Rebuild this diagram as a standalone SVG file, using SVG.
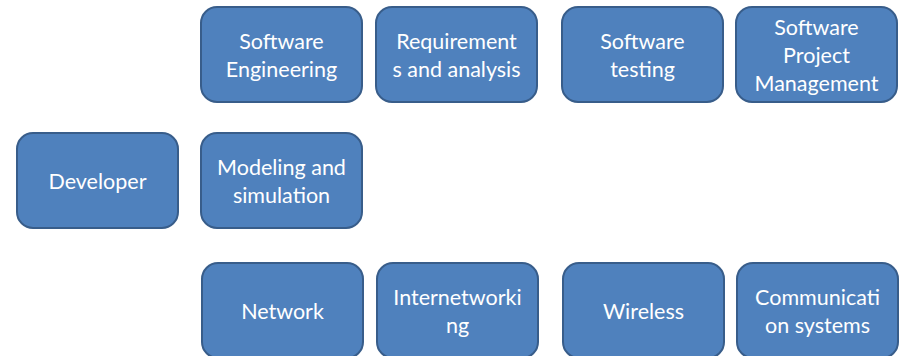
<svg xmlns="http://www.w3.org/2000/svg" width="904" height="356" viewBox="0 0 904 356">
<style>
.box{fill:#4F81BD;stroke:#385D8A;stroke-width:2}
.t{fill:#FFFFFF;font-family:Lato,"Liberation Sans",Arial,sans-serif;font-size:21.5px;text-anchor:middle}
</style>
<rect width="904" height="356" fill="#FFFFFF"/>
<g id="connectors"></g>
<g id="developer"><rect class="box" x="17" y="133" width="161" height="95" rx="16"/><text class="t" x="97.5" y="189">Developer</text></g>
<g id="software-engineering"><rect class="box" x="201" y="7" width="161" height="95" rx="16"/><text class="t" x="281.5" y="49">Software</text><text class="t" x="281.5" y="77">Engineering</text></g>
<g id="requirements"><rect class="box" x="376" y="7" width="161" height="95" rx="16"/><text class="t" x="456.5" y="49">Requirement</text><text class="t" x="456.5" y="77">s and analysis</text></g>
<g id="software-testing"><rect class="box" x="562" y="7" width="161" height="95" rx="16"/><text class="t" x="642.5" y="49">Software</text><text class="t" x="642.5" y="77">testing</text></g>
<g id="software-project-management"><rect class="box" x="736" y="7" width="161" height="95" rx="16"/><text class="t" x="816.5" y="35">Software</text><text class="t" x="816.5" y="63">Project</text><text class="t" x="816.5" y="91">Management</text></g>
<g id="modeling"><rect class="box" x="201" y="133" width="161" height="95" rx="16"/><text class="t" x="281.5" y="175">Modeling and</text><text class="t" x="281.5" y="203">simulation</text></g>
<g id="network"><rect class="box" x="202" y="263" width="161" height="95" rx="16"/><text class="t" x="282.5" y="319">Network</text></g>
<g id="internetworking"><rect class="box" x="377" y="263" width="161" height="95" rx="16"/><text class="t" x="457.5" y="305">Internetworki</text><text class="t" x="457.5" y="333">ng</text></g>
<g id="wireless"><rect class="box" x="563" y="263" width="161" height="95" rx="16"/><text class="t" x="643.5" y="319">Wireless</text></g>
<g id="communication-systems"><rect class="box" x="737" y="263" width="161" height="95" rx="16"/><text class="t" x="817.5" y="305">Communicati</text><text class="t" x="817.5" y="333">on systems</text></g>
</svg>
